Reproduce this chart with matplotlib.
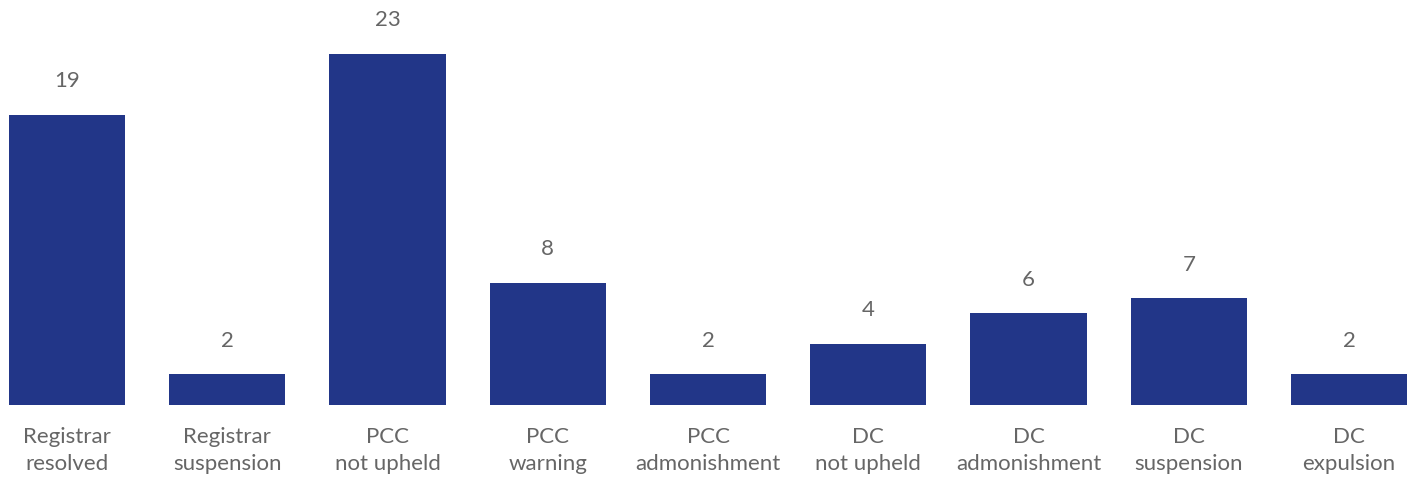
import matplotlib.pyplot as plt

categories = ["Registrar\nresolved", "Registrar\nsuspension", "PCC\nnot upheld",
              "PCC\nwarning", "PCC\nadmonishment", "DC\nnot upheld",
              "DC\nadmonishment", "DC\nsuspension", "DC\nexpulsion"]
counts = [19, 2, 23, 8, 2, 4, 6, 7, 2]

bar_color = "#223688"
text_color = "#666666"

plt.rcParams['font.family'] = ['Lato', 'DejaVu Sans']

fig = plt.figure(figsize=(14.16, 4.79), dpi=100)
ax = fig.add_axes([0, 0.1545, 1, 0.8455])

x = range(len(categories))
bars = ax.bar(x, counts, width=0.724, color=bar_color)

for xi, v in zip(x, counts):
    ax.annotate(str(v), (xi, v), xytext=(0, 17), textcoords="offset points",
                ha="center", va="bottom", fontsize=16, color=text_color)

ax.set_xticks(list(x))
ax.set_xticklabels(categories, fontsize=16, color=text_color, linespacing=1.45)
ax.tick_params(axis="x", length=0, pad=16)
ax.set_yticks([])
ax.set_xlim(-0.418, 8.418)
ax.set_ylim(0, 26.54)
for s in ax.spines.values():
    s.set_visible(False)

fig.savefig("out.png", dpi=100)
